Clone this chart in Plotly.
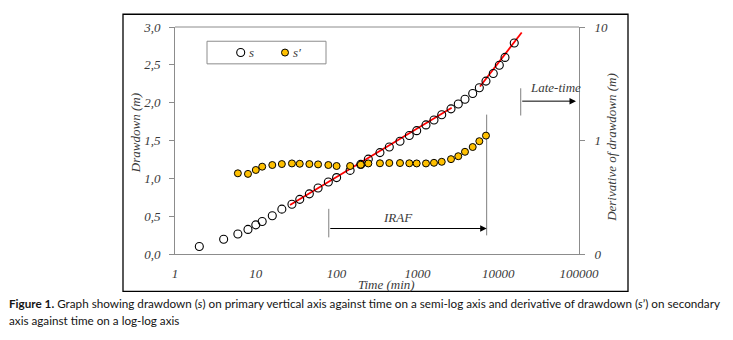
import numpy as np
import plotly.graph_objects as go

# ---- data ----
time_s = [2, 4, 6, 8, 10, 12, 16, 21, 28, 35, 46, 59, 79, 100, 147, 199, 247, 344, 449,
          609, 794, 980, 1277, 1604, 2000, 2606, 3206, 3880, 4835, 5840, 7060, 8690,
          10320, 12140, 15800]
drawdown = [0.10, 0.195, 0.265, 0.325, 0.385, 0.43, 0.506, 0.593, 0.658, 0.722, 0.795,
            0.873, 0.951, 1.01, 1.105, 1.184, 1.254, 1.340, 1.414, 1.49, 1.566, 1.630,
            1.706, 1.770, 1.840, 1.918, 1.982, 2.046, 2.122, 2.198, 2.285, 2.386, 2.494,
            2.598, 2.789]

time_d = [6, 8, 10, 12, 16, 21, 28, 35, 46, 59, 79, 100, 147, 199, 247, 344, 449, 609,
          794, 980, 1277, 1604, 2000, 2606, 3206, 3880, 4835, 5840, 7060]
derivative = [0.514, 0.508, 0.550, 0.588, 0.608, 0.620, 0.628, 0.624, 0.620, 0.616, 0.608,
              0.596, 0.596, 0.612, 0.628, 0.630, 0.633, 0.633, 0.630, 0.628, 0.628, 0.636,
              0.649, 0.685, 0.727, 0.795, 0.876, 0.986, 1.104]

fit1_t = [26.5, 2657]
fit1_s = [0.648, 1.933]
fit2_t = [5953, 19540]
fit2_s = [2.214, 2.927]

x_tickvals = [1, 10, 100, 1000, 10000, 100000]
x_ticktext = ["1", "10", "100", "1000", "10000", "100000"]
y_tickvals = [0, 0.5, 1.0, 1.5, 2.0, 2.5, 3.0]
y_ticktext = ["0,0", "0,5", "1,0", "1,5", "2,0", "2,5", "3,0"]
y2_tickvals = [0.1, 1, 10]
y2_ticktext = ["0", "1", "10"]

# annotation geometry (data units)
iraf_start_t, iraf_end_t = 80, 7200
iraf_left_s = [0.22, 0.597]
iraf_right_s = [0.246, 1.842]
iraf_arrow_s = 0.337
late_t, late_end_t = 19000, 91800
late_line_s = [1.83, 2.19]
late_arrow_s = 2.02

SERIF = "Liberation Serif"
GRAY = "#8c8c8c"
TXT = "#3a3a3a"

# page offset (browser body margin) compensation
OFF = 8
W, H = 733 - OFF, 340 - OFF
L, R, T, B = 175 - OFF, 579 - OFF, 23 - OFF, 254 - OFF


def px_x(x):
    return (x - OFF - L) / (R - L)


def px_y(y):
    return (B - (y - OFF)) / (B - T)


fig = go.Figure()

fig.add_trace(go.Scatter(x=fit1_t, y=fit1_s, mode="lines", line=dict(color="#ff0000", width=1.8),
                         showlegend=False, hoverinfo="skip"))
fig.add_trace(go.Scatter(x=fit2_t, y=fit2_s, mode="lines", line=dict(color="#ff0000", width=1.8),
                         showlegend=False, hoverinfo="skip"))

s_marker = dict(symbol="circle-open", size=8, color="#000000", line=dict(width=1.1, color="#000000"))
d_marker = dict(symbol="circle", size=7, color="#FFC000", line=dict(width=1, color="#000000"))

fig.add_trace(go.Scatter(x=time_s, y=drawdown, mode="markers", name="s", marker=s_marker,
                         showlegend=False))
fig.add_trace(go.Scatter(x=time_d, y=derivative, mode="markers", name="s\u2032", yaxis="y2",
                         marker=d_marker, showlegend=False))

# bracket lines
for xs, ys in [([iraf_start_t, iraf_start_t], iraf_left_s),
               ([iraf_end_t, iraf_end_t], iraf_right_s),
               ([late_t, late_t], late_line_s)]:
    fig.add_trace(go.Scatter(x=xs, y=ys, mode="lines", line=dict(color="#7f7f7f", width=1),
                             showlegend=False, hoverinfo="skip"))

# legend (manual, on an invisible unit overlay axis)
legend_labels = ["s", "s\u2032"]
legend_sym_px = [240.7, 285]
legend_text_px = [247, 291]
legend_y_px = 49
fig.add_trace(go.Scatter(x=[px_x(legend_sym_px[0])], y=[px_y(legend_y_px)], xaxis="x3", yaxis="y3",
                         mode="markers", marker=s_marker, showlegend=False, hoverinfo="skip"))
fig.add_trace(go.Scatter(x=[px_x(legend_sym_px[1])], y=[px_y(legend_y_px)], xaxis="x3", yaxis="y3",
                         mode="markers", marker=d_marker, showlegend=False, hoverinfo="skip"))


def pa(x, y, text, size=13, angle=0, xanchor="center", family=SERIF, style="italic",
       color=TXT):
    return dict(x=px_x(x), y=px_y(y), xref="paper", yref="paper", text=text,
                showarrow=False, textangle=angle, xanchor=xanchor, yanchor="middle",
                font=dict(family=family, size=size, color=color, style=style))


annotations = [
    dict(x=np.log10(iraf_end_t), y=iraf_arrow_s, ax=np.log10(iraf_start_t), ay=iraf_arrow_s,
         xref="x", yref="y", axref="x", ayref="y", text="", showarrow=True,
         arrowhead=2, arrowsize=1.3, arrowwidth=1, arrowcolor="#000000"),
    dict(x=np.log10(late_end_t), y=late_arrow_s, ax=np.log10(late_t), ay=late_arrow_s,
         xref="x", yref="y", axref="x", ayref="y", text="", showarrow=True,
         arrowhead=2, arrowsize=1.3, arrowwidth=1, arrowcolor="#000000"),
    dict(x=np.log10(575), y=0.48, xref="x", yref="y", text="IRAF", showarrow=False,
         xanchor="center", yanchor="middle",
         font=dict(family=SERIF, size=13, color=TXT, style="italic")),
    dict(x=np.log10(51900), y=2.2, xref="x", yref="y", text="Late-time", showarrow=False,
         xanchor="center", yanchor="middle",
         font=dict(family=SERIF, size=13, color=TXT, style="italic")),
    pa(135, 131, "Drawdown (m)", angle=-90),
    pa(612, 146, "Derivative of drawdown (m)", angle=-90),
    pa(386, 285, "Time (min)"),
    pa(legend_text_px[0], legend_y_px, legend_labels[0], xanchor="left"),
    pa(legend_text_px[1], legend_y_px, legend_labels[1], xanchor="left"),
    pa(7, 304, "<b>Figure 1.</b> Graph showing drawdown (<i>s</i>) on primary vertical axis against time on a semi-log axis and derivative of drawdown (<i>s</i>\u2019) on secondary",
       size=11.7, xanchor="left", family="Lato", style="normal", color="#141414"),
    pa(7, 321, "axis against time on a log-log axis",
       size=11.7, xanchor="left", family="Lato", style="normal", color="#141414"),
]

shapes = [
    dict(type="rect", xref="paper", yref="paper",
         x0=px_x(123), x1=px_x(628), y0=px_y(292), y1=px_y(10),
         line=dict(color="#000000", width=1.3), layer="below"),
    dict(type="line", xref="paper", yref="paper", x0=0, x1=1, y0=1, y1=1,
         line=dict(color=GRAY, width=1)),
    dict(type="rect", xref="paper", yref="paper",
         x0=px_x(207), x1=px_x(326), y0=px_y(60.5), y1=px_y(37.5),
         line=dict(color=GRAY, width=1), fillcolor="white", layer="below"),
]

fig.update_layout(
    width=W, height=H,
    margin=dict(l=L, r=W - R, t=T, b=H - B, pad=0),
    paper_bgcolor="white", plot_bgcolor="white",
    annotations=annotations, shapes=shapes, showlegend=False,
    xaxis=dict(type="log", range=[0, 5], tickvals=x_tickvals, ticktext=x_ticktext,
               showgrid=False, zeroline=False, showline=True, linecolor=GRAY, linewidth=1,
               ticks="", ticklabelstandoff=7,
               tickfont=dict(family=SERIF, size=13, color=TXT, style="italic")),
    yaxis=dict(range=[0, 3], tickvals=y_tickvals, ticktext=y_ticktext, showgrid=False,
               zeroline=False, showline=True, linecolor=GRAY, linewidth=1,
               ticks="outside", ticklen=5, tickcolor=GRAY, ticklabelstandoff=6,
               tickfont=dict(family=SERIF, size=13, color=TXT, style="italic")),
    yaxis2=dict(type="log", range=[-1, 1], overlaying="y", side="right",
                tickvals=y2_tickvals, ticktext=y2_ticktext, showgrid=False, zeroline=False,
                showline=True, linecolor=GRAY, linewidth=1, ticks="outside", ticklen=5,
                tickcolor=GRAY, ticklabelstandoff=7,
                tickfont=dict(family=SERIF, size=13, color=TXT, style="italic")),
    xaxis3=dict(range=[0, 1], overlaying="x", visible=False, fixedrange=True),
    yaxis3=dict(range=[0, 1], overlaying="y", visible=False, fixedrange=True, anchor="x3"),
)
fig.data[-2].update(xaxis="x3", yaxis="y3")
fig.data[-1].update(xaxis="x3", yaxis="y3")

fig.write_html("out.html")
